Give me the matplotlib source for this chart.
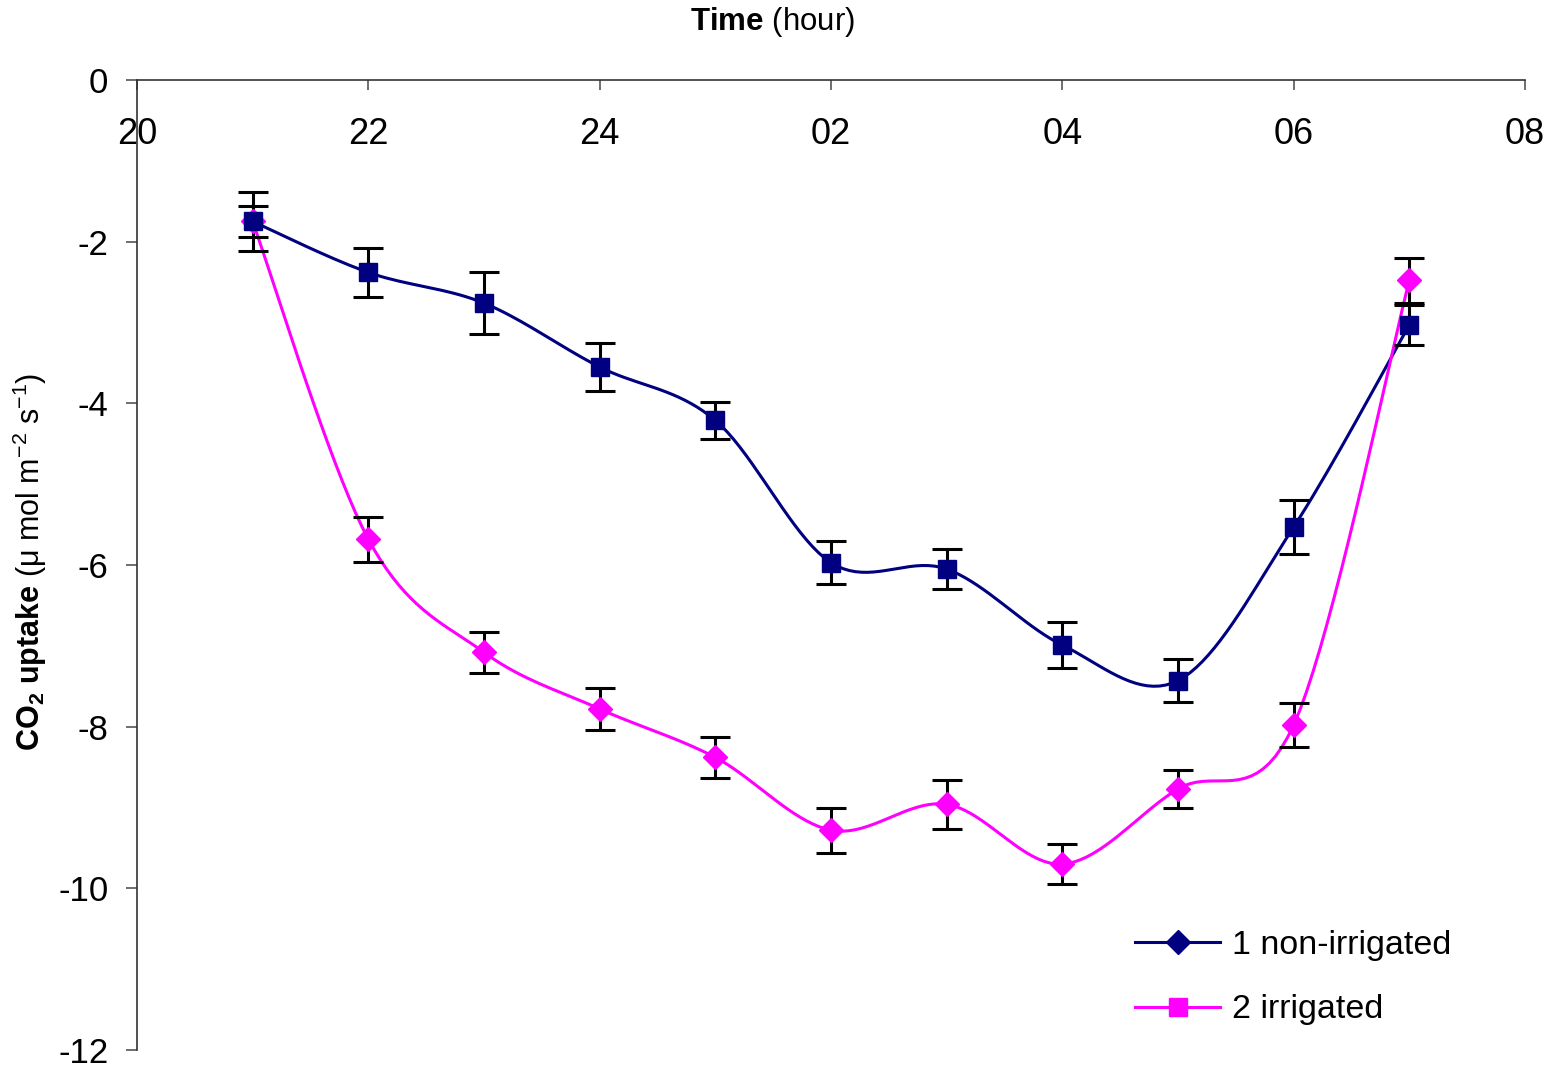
import numpy as np
import matplotlib
matplotlib.use('Agg')
import matplotlib.pyplot as plt
from matplotlib.lines import Line2D

plt.rcParams['font.family'] = ['Liberation Sans', 'DejaVu Sans']
plt.rcParams['mathtext.fontset'] = 'custom'
plt.rcParams['mathtext.rm'] = 'Liberation Sans'
plt.rcParams['mathtext.bf'] = 'Liberation Sans:bold'
plt.rcParams['axes.unicode_minus'] = False

# time in hours after 20:00 of the first day (26 = 02, 28 = 04 ...)
hours = [21, 22, 23, 24, 25, 26, 27, 28, 29, 30, 31]
non_irr = [-1.75, -2.38, -2.76, -3.55, -4.21, -5.97, -6.05, -6.99, -7.43, -5.53, -3.03]
non_irr_err = [0.36, 0.30, 0.38, 0.30, 0.23, 0.27, 0.25, 0.29, 0.27, 0.33, 0.25]
irr = [-1.75, -5.68, -7.08, -7.78, -8.38, -9.28, -8.96, -9.70, -8.77, -7.98, -2.48]
irr_err = [0.19, 0.28, 0.25, 0.26, 0.25, 0.28, 0.30, 0.25, 0.23, 0.27, 0.28]
xticks = [20, 22, 24, 26, 28, 30, 32]
xticklabels = ['20', '22', '24', '02', '04', '06', '08']
yticks = [0, -2, -4, -6, -8, -10, -12]

NAVY = '#000080'
MAGENTA = '#FF00FF'


def smooth(x, y, n=20):
    # excel style smoothed line (catmull-rom as bezier)
    p = np.column_stack([x, y]).astype(float)
    p = np.vstack([p[0], p, p[-1]])
    out = []
    t = np.linspace(0, 1, n)[:, None]
    for i in range(1, len(p) - 2):
        p0, p1, p2, p3 = p[i - 1], p[i], p[i + 1], p[i + 2]
        c1 = p1 + (p2 - p0) / 6
        c2 = p2 - (p3 - p1) / 6
        seg = ((1 - t) ** 3) * p1 + 3 * ((1 - t) ** 2) * t * c1 + 3 * (1 - t) * t ** 2 * c2 + t ** 3 * p2
        out.append(seg)
    out = np.vstack(out)
    return out[:, 0], out[:, 1]


fig = plt.figure(figsize=(15.58, 10.67), dpi=100)
ax = fig.add_axes([0.0879, 0.0159, 0.8909, 0.9091])

sx, sy = smooth(hours, non_irr)
ax.plot(sx, sy, color=NAVY, lw=2.2, zorder=2)
sx, sy = smooth(hours, irr)
ax.plot(sx, sy, color=MAGENTA, lw=2.2, zorder=2)

ax.errorbar(hours, non_irr, yerr=non_irr_err, fmt='none', ecolor='black',
            elinewidth=2.2, capsize=11, capthick=2.2, zorder=3)
ax.errorbar(hours, irr, yerr=irr_err, fmt='none', ecolor='black',
            elinewidth=2.2, capsize=11, capthick=2.2, zorder=3)

ax.plot(hours, irr, linestyle='none', marker='D', color=MAGENTA, markersize=12, zorder=4)
ax.plot(hours, non_irr, linestyle='none', marker='s', color=NAVY, markersize=13, zorder=5)

ax.set_xlim(20, 32)
ax.set_ylim(-12, 0)
ax.set_xticks(xticks)
ax.set_xticklabels(xticklabels)
ax.set_yticks(yticks)

for s in ['bottom', 'right']:
    ax.spines[s].set_visible(False)
for s in ['top', 'left']:
    ax.spines[s].set_color('#333333')
    ax.spines[s].set_linewidth(1.2)

ax.tick_params(axis='x', top=True, bottom=False, labeltop=True, labelbottom=False,
               direction='in', length=7, width=1.2, color='#555555', labelsize=26, pad=-51.5)
ax.tick_params(axis='y', direction='out', length=8, width=1.2, color='#555555', labelsize=25, pad=12.5)

fig.text(0.496, 0.979, r'$\bf{Time}$ (hour)', ha='center', va='center', fontsize=22.5)
fig.text(0.019, 0.473, r'$\bf{CO_2}$ $\bf{uptake}$ (μ mol m$^{-2}$ s$^{-1}$)',
         ha='center', va='center', rotation=90, fontsize=22)

handles = [
    Line2D([], [], color=NAVY, lw=2.2, marker='D', markersize=12),
    Line2D([], [], color=MAGENTA, lw=2.2, marker='s', markersize=13),
]
ax.legend(handles, ['1 non-irrigated', '2 irrigated'], loc='upper left',
          bbox_to_anchor=(0.709, 0.157), bbox_transform=fig.transFigure,
          frameon=False, fontsize=24.5, handlelength=2.5, handletextpad=0.35,
          labelspacing=0.98)

fig.savefig('out.png', dpi=100)
